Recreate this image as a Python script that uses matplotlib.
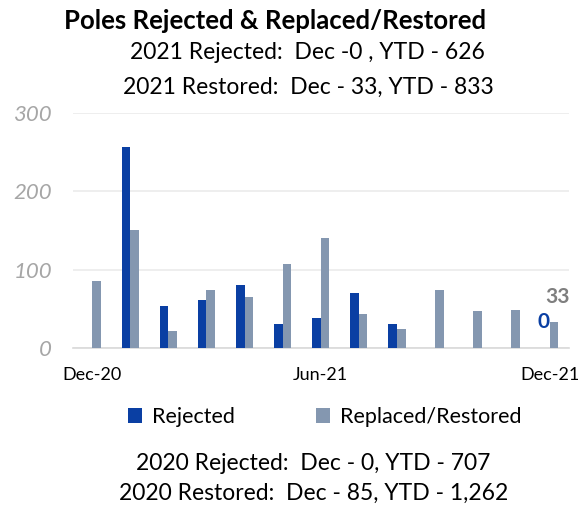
import matplotlib
matplotlib.use("Agg")
import matplotlib.pyplot as plt
import numpy as np

months = ["Dec-20", "Jan-21", "Feb-21", "Mar-21", "Apr-21", "May-21", "Jun-21",
          "Jul-21", "Aug-21", "Sep-21", "Oct-21", "Nov-21", "Dec-21"]
rejected = [0, 256, 53, 61, 81, 31, 38, 70, 31, 0, 0, 0, 0]
restored = [85, 151, 22, 74, 65, 107, 140, 43, 24, 74, 47, 48, 33]
shown_ticks = ["Dec-20", "Jun-21", "Dec-21"]

title = "Poles Rejected & Replaced/Restored"
sub_2021 = ["2021 Rejected:  Dec -0 , YTD - 626", "2021 Restored:  Dec - 33, YTD - 833"]
sub_2020 = ["2020 Rejected:  Dec - 0, YTD - 707", "2020 Restored:  Dec - 85, YTD - 1,262"]

c_rej = "#0A3FA3"
c_res = "#8497B0"

plt.rcParams["font.family"] = ["Lato", "DejaVu Sans"]

fig = plt.figure(figsize=(5.81, 5.08), dpi=100)
ax = fig.add_axes([0.1256, 0.315, 0.853, 0.4626])

x = np.arange(len(months))
w = 0.225
b1 = ax.bar(x - w / 2, rejected, w, color=c_rej, label="Rejected", zorder=3)
b2 = ax.bar(x + w / 2, restored, w, color=c_res, label="Replaced/Restored", zorder=3)

ax.set_xlim(-0.5, len(months) - 0.5)
ax.set_ylim(0, 300)
ax.set_yticks([0, 100, 200, 300])
ax.yaxis.grid(True, color="#EBEBEB", linewidth=1.2, zorder=0)
ax.tick_params(axis="y", length=0, pad=15, labelsize=16, labelcolor="#A6A6A6")
for lbl in ax.get_yticklabels():
    lbl.set_fontstyle("italic")

ax.set_xticks([months.index(m) for m in shown_ticks])
ax.set_xticklabels(shown_ticks)
ax.tick_params(axis="x", length=0, pad=14, labelsize=13)

for s in ["top", "right", "left"]:
    ax.spines[s].set_visible(False)
ax.spines["bottom"].set_color("#D9D9D9")
ax.spines["bottom"].set_linewidth(1.2)

# last-month labels
ax.annotate(str(restored[-1]), (x[-1] + w / 2, restored[-1]), xytext=(3, 18),
            textcoords="offset points", ha="center", va="center",
            fontsize=15, fontweight="bold", color="#7F7F7F")
ax.annotate(str(rejected[-1]), (x[-1] - w / 2, rejected[-1]), xytext=(-1.5, 19),
            textcoords="offset points", ha="center", va="center",
            fontsize=15, fontweight="bold", color=c_rej)

fig.text(0.473, 0.959, title, ha="center", va="center", fontsize=18.5, fontweight="bold")
fig.text(0.53, 0.896, sub_2021[0], ha="center", va="center", fontsize=16.5)
fig.text(0.53, 0.829, sub_2021[1], ha="center", va="center", fontsize=16.5)
fig.text(0.539, 0.088, sub_2020[0], ha="center", va="center", fontsize=16.5)
fig.text(0.539, 0.029, sub_2020[1], ha="center", va="center", fontsize=16.5)

fig.legend(handles=[b1, b2], loc="center", bbox_to_anchor=(0.559, 0.179), ncol=2,
           frameon=False, fontsize=15.5, handlelength=0.65, handleheight=0.65,
           columnspacing=3.8, handletextpad=0.45)

fig.savefig("out.png", dpi=100)
